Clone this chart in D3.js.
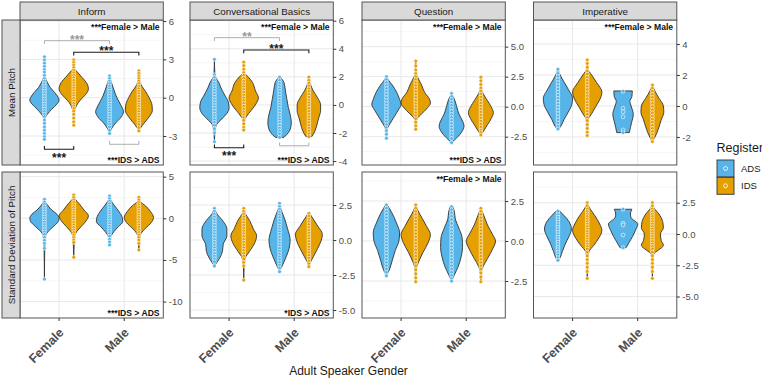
<!DOCTYPE html>
<html>
<head>
<meta charset="utf-8">
<script src="https://cdn.jsdelivr.net/npm/d3@7"></script>
<style>
  body { margin: 0; background: #fff; }
  svg { display: block; font-family: "Liberation Sans", Arial, sans-serif; }
</style>
</head>
<body>
<svg id="chart" width="762" height="379"></svg>
<script>
const contexts = ["Inform", "Conversational Basics", "Question", "Imperative"];
const measures = ["Mean Pitch", "Standard Deviation of Pitch"];
const genders = ["Female", "Male"];
const registers = ["ADS", "IDS"];
const registerColors = ["#56B4E9", "#E69F00"];

// y limits and ticks, [row][column]
const yLimits = [
  [[-5.27, 6.08], [-4.28, 6.05], [-4.86, 7.22], [-3.81, 5.55]],
  [[-11.97, 5.56], [-5.57, 4.86], [-4.81, 4.31], [-6.72, 4.96]]
];
const yTicks = [
  [[-3, 0, 3, 6], [-4, -2, 0, 2, 4, 6], [-2.5, 0, 2.5, 5], [-2, 0, 2, 4]],
  [[-10, -5, 0, 5], [-5, -2.5, 0, 2.5], [-2.5, 0, 2.5], [-5, -2.5, 0, 2.5]]
];
const genderNotes = [
  ["***Female > Male", "***Female > Male", "***Female > Male", "***Female > Male"],
  ["", "", "**Female > Male", ""]
];
const registerNotes = [
  ["***IDS > ADS", "***IDS > ADS", "***IDS > ADS", ""],
  ["***IDS > ADS", "*IDS > ADS", "", ""]
];

// violin outlines: [value, relative half width], order Female ADS, Female IDS, Male ADS, Male IDS
const meanInformShapes = [
  [[3.2,0],[2.2,0.03],[1.6,0.06],[1.2,0.2],[0.8,0.4],[0.4,0.7],[0,0.95],[-0.2,1.0],[-0.5,0.85],[-0.9,0.5],[-1.3,0.2],[-1.6,0.06],[-2.5,0.02],[-3.26,0]],
  [[2.95,0],[2.3,0.05],[2.0,0.25],[1.6,0.55],[1.2,0.85],[0.7,1.0],[0.3,0.85],[0,0.6],[-0.4,0.3],[-0.8,0.12],[-1.2,0.04],[-2.15,0]],
  [[1.7,0],[1.2,0.12],[0.6,0.3],[0,0.5],[-0.6,0.78],[-1.1,0.95],[-1.5,0.8],[-2.0,0.4],[-2.4,0.15],[-2.8,0]],
  [[2.1,0],[1.5,0.04],[1.0,0.15],[0.5,0.45],[0,0.7],[-0.6,0.9],[-1.0,0.92],[-1.5,0.7],[-2.0,0.35],[-2.4,0.1],[-2.6,0]]
];
const meanConvShapes = [
  [[3.25,0],[2.2,0.03],[1.9,0.12],[1.6,0.3],[1.2,0.45],[0.7,0.7],[0.2,0.95],[-0.2,1.0],[-0.6,0.85],[-1.0,0.5],[-1.4,0.15],[-1.8,0.05],[-2.62,0]],
  [[3.04,0],[2.3,0.04],[2.0,0.3],[1.6,0.6],[1.0,0.8],[0.5,1.0],[0.1,0.85],[-0.4,0.5],[-0.8,0.2],[-1.1,0.05],[-1.79,0]],
  [[1.97,0.05],[1.6,0.3],[1.0,0.4],[0.4,0.5],[-0.2,0.6],[-0.8,0.75],[-1.3,0.8],[-1.8,0.7],[-2.1,0.5],[-2.31,0.3]],
  [[1.97,0],[1.5,0.1],[1.0,0.3],[0.5,0.6],[0,0.8],[-0.4,0.8],[-1.0,0.65],[-1.6,0.5],[-2.0,0.35],[-2.26,0.2]]
];
const meanQuestionShapes = [
  [[2.5,0],[2.2,0.15],[1.8,0.4],[1.2,0.7],[0.6,0.9],[0.2,1.0],[-0.3,0.8],[-0.9,0.5],[-1.4,0.25],[-1.8,0.08],[-2.63,0]],
  [[3.8,0],[2.8,0.03],[2.4,0.15],[1.8,0.4],[1.2,0.6],[0.6,0.95],[0.3,1.0],[-0.1,0.8],[-0.6,0.4],[-1.0,0.1],[-1.3,0.03],[-1.88,0]],
  [[1.1,0],[0.6,0.2],[0,0.35],[-0.6,0.5],[-1.2,0.75],[-1.6,0.85],[-2.1,0.7],[-2.6,0.35],[-3.0,0]],
  [[2.45,0],[1.5,0.03],[1.1,0.15],[0.5,0.45],[0,0.7],[-0.5,0.85],[-1.0,0.7],[-1.5,0.45],[-2.0,0.2],[-2.36,0]]
];
const meanImperativeShapes = [
  [[2.37,0],[2.0,0.15],[1.5,0.45],[1.0,0.75],[0.5,1.0],[0.1,0.95],[-0.4,0.7],[-0.9,0.4],[-1.3,0.2],[-1.48,0.05]],
  [[2.97,0],[2.4,0.04],[2.0,0.3],[1.5,0.65],[0.9,1.0],[0.4,0.85],[0,0.6],[-0.5,0.3],[-0.85,0.08],[-1.3,0.03],[-1.91,0]],
  [[0.97,0.63],[0.6,0.6],[0.3,0.46],[0,0.55],[-0.55,0.7],[-1.0,0.6],[-1.4,0.5],[-1.72,0.43]],
  [[1.35,0],[1.0,0.15],[0.5,0.45],[0,0.75],[-0.4,0.78],[-0.9,0.6],[-1.5,0.4],[-2.0,0.18],[-2.3,0]]
];
const sdInformShapes = [
  [[2.28,0],[2.0,0.05],[1.5,0.25],[1.0,0.5],[0.5,0.85],[0,1.0],[-0.5,0.9],[-1.0,0.6],[-1.5,0.3],[-2.0,0.1],[-3.0,0.03],[-7.3,0]],
  [[2.8,0],[2.3,0.1],[1.8,0.35],[1.0,0.7],[0.3,1.0],[-0.3,0.85],[-1.0,0.5],[-1.6,0.2],[-2.2,0.06],[-3.0,0.03],[-4.68,0]],
  [[2.68,0],[2.2,0.08],[1.6,0.3],[0.8,0.65],[0,0.88],[-0.4,0.9],[-1.0,0.6],[-1.6,0.3],[-2.2,0.08],[-3.2,0]],
  [[2.52,0],[2.0,0.1],[1.5,0.45],[0.8,0.8],[0.1,1.0],[-0.5,0.85],[-1.2,0.45],[-1.8,0.15],[-2.4,0.05],[-3.8,0]]
];
const sdConvShapes = [
  [[2.26,0],[1.9,0.15],[1.4,0.55],[0.8,0.85],[0.3,0.85],[-0.3,0.6],[-0.8,0.55],[-1.3,0.35],[-1.7,0.1],[-1.86,0]],
  [[2.26,0],[1.9,0.1],[1.4,0.4],[0.8,0.65],[0.3,0.88],[-0.2,0.75],[-0.8,0.4],[-1.3,0.1],[-1.8,0.03],[-2.86,0]],
  [[2.62,0],[2.2,0.1],[1.5,0.35],[0.8,0.55],[0,0.72],[-0.6,0.65],[-1.2,0.45],[-1.8,0.2],[-2.26,0]],
  [[1.9,0.05],[1.5,0.3],[1.0,0.6],[0.4,0.92],[0,0.85],[-0.6,0.6],[-1.2,0.3],[-1.6,0.1],[-1.9,0]]
];
const sdQuestionShapes = [
  [[2.25,0.05],[1.8,0.35],[1.2,0.65],[0.5,0.9],[0,0.85],[-0.6,0.6],[-1.2,0.4],[-1.8,0.2],[-2.17,0]],
  [[2.25,0],[1.9,0.15],[1.4,0.45],[0.9,0.75],[0.4,1.0],[-0.1,0.85],[-0.7,0.5],[-1.3,0.2],[-1.7,0.05],[-2.54,0]],
  [[2.14,0.1],[1.8,0.2],[1.4,0.25],[0.8,0.5],[0.2,0.72],[-0.4,0.75],[-1.0,0.65],[-1.6,0.45],[-2.1,0.2],[-2.5,0]],
  [[2.04,0],[1.6,0.2],[1.0,0.45],[0.4,0.8],[0,1.0],[-0.5,0.8],[-1.1,0.45],[-1.6,0.15],[-1.9,0.05],[-2.54,0]]
];
const sdImperativeShapes = [
  [[1.92,0.05],[1.5,0.4],[1.0,0.75],[0.4,0.92],[-0.2,0.75],[-0.8,0.5],[-1.4,0.3],[-1.9,0.15],[-2.2,0]],
  [[2.5,0],[2.1,0.15],[1.5,0.5],[0.8,0.85],[0.3,1.0],[-0.3,0.8],[-0.9,0.45],[-1.4,0.12],[-2.0,0.03],[-3.55,0]],
  [[1.98,0.6],[1.6,0.5],[1.3,0.55],[0.8,1.0],[0.3,0.85],[-0.2,0.65],[-0.7,0.4],[-1.1,0.2]],
  [[2.5,0],[2.1,0.1],[1.6,0.45],[1.0,0.7],[0.5,0.75],[0,0.55],[-0.5,0.6],[-0.9,0.75],[-1.3,0.4],[-1.6,0.08],[-2.2,0.03],[-3.55,0]]
];

// individual speaker values, same order
const meanInformPoints = [
  [3.2,2.95,2.7,2.45,2.2,2.0,1.75,1.5,1.3,1.1,0.9,0.7,0.5,0.3,0.1,-0.1,-0.3,-0.5,-0.7,-0.9,-1.1,-1.3,-1.5,-1.75,-2.0,-2.3,-2.55,-2.8,-3.05,-3.26],
  [2.95,2.75,2.55,2.35,2.15,1.95,1.75,1.55,1.35,1.15,0.95,0.75,0.55,0.35,0.15,-0.05,-0.25,-0.45,-0.65,-0.85,-1.05,-1.3,-1.6,-1.9,-2.15],
  [1.7,1.5,1.3,1.1,0.9,0.7,0.5,0.3,0.1,-0.1,-0.3,-0.5,-0.7,-0.9,-1.1,-1.3,-1.5,-1.7,-1.9,-2.1,-2.3,-2.55,-2.8],
  [2.1,1.9,1.7,1.5,1.3,1.1,0.9,0.7,0.5,0.3,0.1,-0.1,-0.3,-0.5,-0.7,-0.9,-1.1,-1.3,-1.5,-1.7,-1.9,-2.1,-2.35,-2.6]
];
const meanConvPoints = [
  [3.25,2.15,1.95,1.75,1.55,1.35,1.15,0.95,0.75,0.55,0.35,0.15,-0.05,-0.25,-0.45,-0.65,-0.85,-1.05,-1.25,-1.45,-1.7,-2.0,-2.62],
  [3.04,2.8,2.55,2.3,2.1,1.9,1.7,1.5,1.3,1.1,0.9,0.7,0.5,0.3,0.1,-0.1,-0.3,-0.5,-0.7,-0.9,-1.1,-1.35,-1.6,-1.79],
  [1.97,1.75,1.55,1.35,1.15,0.95,0.75,0.55,0.35,0.15,-0.05,-0.25,-0.45,-0.65,-0.85,-1.05,-1.25,-1.45,-1.65,-1.85,-2.05,-2.31],
  [1.97,1.75,1.55,1.35,1.15,0.95,0.75,0.55,0.35,0.15,-0.05,-0.25,-0.45,-0.65,-0.85,-1.05,-1.25,-1.45,-1.65,-1.85,-2.05,-2.26]
];
const meanQuestionPoints = [
  [2.5,2.25,2.0,1.75,1.5,1.25,1.0,0.75,0.5,0.25,0,-0.25,-0.5,-0.75,-1.0,-1.25,-1.5,-1.75,-2.0,-2.3,-2.63],
  [3.8,3.4,3.05,2.75,2.5,2.25,2.0,1.75,1.5,1.25,1.0,0.75,0.5,0.25,0,-0.25,-0.5,-0.75,-1.0,-1.3,-1.6,-1.88],
  [1.1,0.85,0.6,0.35,0.1,-0.15,-0.4,-0.65,-0.9,-1.15,-1.4,-1.65,-1.9,-2.15,-2.4,-2.65,-3.0],
  [2.45,2.15,1.85,1.55,1.3,1.05,0.8,0.55,0.3,0.05,-0.2,-0.45,-0.7,-0.95,-1.2,-1.45,-1.7,-1.95,-2.15,-2.36]
];
const meanImperativePoints = [
  [2.37,2.1,1.9,1.7,1.5,1.3,1.1,0.9,0.7,0.5,0.3,0.1,-0.1,-0.3,-0.5,-0.7,-0.9,-1.1,-1.3,-1.48],
  [2.97,2.75,2.5,2.25,2.05,1.85,1.65,1.45,1.25,1.05,0.85,0.65,0.45,0.25,0.05,-0.15,-0.35,-0.55,-0.75,-0.95,-1.2,-1.45,-1.7,-1.91],
  [0.95,-0.15,-0.38,-0.7,-1.55,-1.72],
  [1.35,1.15,0.95,0.75,0.55,0.35,0.15,-0.05,-0.25,-0.45,-0.65,-0.85,-1.05,-1.25,-1.45,-1.65,-1.85,-2.05,-2.3]
];
const sdInformPoints = [
  [2.28,1.95,1.65,1.35,1.05,0.75,0.45,0.15,-0.15,-0.45,-0.75,-1.05,-1.35,-1.65,-1.95,-2.3,-2.65,-3.0,-3.6,-7.3],
  [2.8,2.5,2.2,1.9,1.6,1.3,1.0,0.7,0.4,0.1,-0.2,-0.5,-0.8,-1.1,-1.4,-1.7,-2.0,-2.3,-2.6,-2.9,-4.68],
  [2.68,2.35,2.05,1.75,1.45,1.15,0.85,0.55,0.25,-0.05,-0.35,-0.65,-0.95,-1.25,-1.55,-1.85,-2.15,-2.5,-2.85,-3.2],
  [2.52,2.2,1.9,1.6,1.3,1.0,0.7,0.4,0.1,-0.2,-0.5,-0.8,-1.1,-1.4,-1.7,-2.0,-2.3,-2.6,-3.0,-3.8]
];
const sdConvPoints = [
  [2.26,2.05,1.85,1.65,1.45,1.25,1.05,0.85,0.65,0.45,0.25,0.05,-0.15,-0.35,-0.55,-0.75,-0.95,-1.15,-1.35,-1.55,-1.86],
  [2.26,2.05,1.85,1.65,1.45,1.25,1.05,0.85,0.65,0.45,0.25,0.05,-0.15,-0.35,-0.55,-0.75,-0.95,-1.15,-1.35,-1.6,-1.85,-2.86],
  [2.62,2.4,2.2,2.0,1.8,1.6,1.4,1.2,1.0,0.8,0.6,0.4,0.2,0,-0.2,-0.4,-0.6,-0.8,-1.0,-1.2,-1.4,-1.6,-1.8,-2.0,-2.26],
  [1.9,1.7,1.5,1.3,1.1,0.9,0.7,0.5,0.3,0.1,-0.1,-0.3,-0.5,-0.7,-0.9,-1.1,-1.3,-1.5,-1.7,-1.9]
];
const sdQuestionPoints = [
  [2.25,2.05,1.85,1.65,1.45,1.25,1.05,0.85,0.65,0.45,0.25,0.05,-0.15,-0.35,-0.55,-0.75,-0.95,-1.15,-1.35,-1.55,-1.75,-1.95,-2.17],
  [2.25,2.05,1.85,1.65,1.45,1.25,1.05,0.85,0.65,0.45,0.25,0.05,-0.15,-0.35,-0.55,-0.75,-0.95,-1.15,-1.35,-1.55,-1.8,-2.05,-2.3,-2.54],
  [2.14,1.95,1.75,1.55,1.35,1.1,0.85,0.65,0.45,0.25,0.05,-0.15,-0.35,-0.55,-0.75,-0.95,-1.15,-1.35,-1.55,-1.75,-1.95,-2.15,-2.35,-2.5],
  [2.04,1.85,1.65,1.45,1.25,1.05,0.85,0.65,0.45,0.25,0.05,-0.15,-0.35,-0.55,-0.75,-0.95,-1.15,-1.35,-1.55,-1.75,-2.0,-2.25,-2.54]
];
const sdImperativePoints = [
  [1.8,1.55,1.35,1.15,0.95,0.75,0.55,0.35,0.15,-0.05,-0.25,-0.45,-0.65,-0.85,-1.05,-1.25,-1.45,-1.65,-1.9,-2.1],
  [2.5,2.25,2.0,1.8,1.6,1.4,1.2,1.0,0.8,0.6,0.4,0.2,0,-0.2,-0.4,-0.6,-0.8,-1.0,-1.2,-1.45,-1.75,-2.05,-2.35,-2.65,-3.0,-3.55],
  [1.98,0.86,0.72,-0.08,-1.1],
  [2.5,2.25,2.0,1.8,1.6,1.4,1.2,1.0,0.8,0.6,0.4,0.2,0,-0.2,-0.4,-0.6,-0.8,-1.0,-1.2,-1.45,-1.75,-2.05,-2.35,-2.65,-3.0,-3.55]
];

// significance brackets in the Mean Pitch row: column, ends [gender, register], y value, tip direction
const brackets = [
  {col: 0, from: [0, 0], to: [1, 0], y: 4.46, dir: 1, label: "***", grey: true},
  {col: 0, from: [0, 1], to: [1, 1], y: 3.55, dir: 1, label: "***", grey: false},
  {col: 0, from: [0, 0], to: [0, 1], y: -4.04, dir: -1, label: "***", grey: false},
  {col: 0, from: [1, 0], to: [1, 1], y: -3.65, dir: -1, label: "", grey: true},
  {col: 1, from: [0, 0], to: [1, 0], y: 4.79, dir: 1, label: "**", grey: true},
  {col: 1, from: [0, 1], to: [1, 1], y: 3.91, dir: 1, label: "***", grey: false},
  {col: 1, from: [0, 0], to: [0, 1], y: -3.05, dir: -1, label: "***", grey: false},
  {col: 1, from: [1, 0], to: [1, 1], y: -2.91, dir: -1, label: "", grey: true}
];

const shapes = [
  [meanInformShapes, meanConvShapes, meanQuestionShapes, meanImperativeShapes],
  [sdInformShapes, sdConvShapes, sdQuestionShapes, sdImperativeShapes]
];
const points = [
  [meanInformPoints, meanConvPoints, meanQuestionPoints, meanImperativePoints],
  [sdInformPoints, sdConvPoints, sdQuestionPoints, sdImperativePoints]
];

const panelLeft = [20, 190, 362, 533.5];
const panelW = 143.3;
const rowTop = [20, 172];
const rowH = [145, 146];

const svg = d3.select("#chart");
svg.append("rect").attr("width", 762).attr("height", 379).attr("fill", "#fff");

const x = d3.scalePoint().domain(genders).range([0, panelW]).padding(0.6);
const dodge = d3.scaleBand().domain(registers)
  .range([-0.45 * x.step(), 0.45 * x.step()]);
const half = dodge.bandwidth() / 2;
const colour = d3.scaleOrdinal().domain(registers).range(registerColors);

measures.forEach((measure, r) => {
  contexts.forEach((context, c) => {
    const h = rowH[r];
    const g = svg.append("g")
      .attr("transform", `translate(${panelLeft[c]},${rowTop[r]})`);
    const y = d3.scaleLinear().domain(yLimits[r][c]).range([h, 0]);
    const ticks = yTicks[r][c];
    const step = ticks[1] - ticks[0];
    const minor = [ticks[0] - step].concat(ticks).map(t => t + step / 2)
      .filter(t => t > yLimits[r][c][0] && t < yLimits[r][c][1]);

    g.append("g").selectAll("line").data(minor).enter().append("line")
      .attr("x1", 0).attr("x2", panelW)
      .attr("y1", d => y(d)).attr("y2", d => y(d))
      .attr("stroke", "#f2f2f2").attr("stroke-width", 0.7);
    g.append("g").selectAll("line").data(ticks).enter().append("line")
      .attr("x1", 0).attr("x2", panelW)
      .attr("y1", d => y(d)).attr("y2", d => y(d))
      .attr("stroke", "#e8e8e8").attr("stroke-width", 1);
    g.append("g").selectAll("line").data(genders).enter().append("line")
      .attr("x1", d => x(d)).attr("x2", d => x(d))
      .attr("y1", 0).attr("y2", h)
      .attr("stroke", "#e8e8e8").attr("stroke-width", 1);

    const groups = [];
    genders.forEach((gd, gi) => registers.forEach((rg, ri) => {
      groups.push({gender: gd, register: rg, cx: x(gd) + dodge(rg) + half,
        shape: shapes[r][c][gi * 2 + ri], pts: points[r][c][gi * 2 + ri]});
    }));

    groups.forEach(grp => {
      const area = d3.area()
        .y(d => y(d[0]))
        .x0(d => grp.cx - d[1] * half)
        .x1(d => grp.cx + d[1] * half)
        .curve(d3.curveMonotoneY);
      const prof = grp.shape.slice().sort((a, b) => b[0] - a[0]);
      g.append("path").attr("d", area(prof))
        .attr("fill", colour(grp.register))
        .attr("stroke", "#333").attr("stroke-width", 0.9)
        .attr("stroke-linejoin", "round");
    });
    groups.forEach(grp => {
      g.append("g").selectAll("circle").data(grp.pts).enter().append("circle")
        .attr("cx", grp.cx).attr("cy", d => y(d)).attr("r", 1.9)
        .attr("fill", colour(grp.register))
        .attr("stroke", "#fff").attr("stroke-width", 0.6);
    });

    // brackets
    if (r === 0) {
      brackets.filter(b => b.col === c).forEach(b => {
        const x1 = x(genders[b.from[0]]) + dodge(registers[b.from[1]]) + half;
        const x2 = x(genders[b.to[0]]) + dodge(registers[b.to[1]]) + half;
        const yy = y(b.y);
        const tip = 3.3 * b.dir;
        const col = b.grey ? "#9a9a9a" : "#1a1a1a";
        g.append("path")
          .attr("d", `M${x1},${yy + tip}V${yy}H${x2}V${yy + tip}`)
          .attr("fill", "none").attr("stroke", col)
          .attr("stroke-width", b.grey ? 0.8 : 1.1);
        if (b.label) {
          g.append("text").attr("x", (x1 + x2) / 2)
            .attr("y", b.dir > 0 ? yy + 3 : yy + 12.7)
            .attr("text-anchor", "middle").attr("font-size", 12)
            .attr("font-weight", "bold").attr("fill", col).text(b.label);
        }
      });
    }

    if (genderNotes[r][c]) {
      g.append("text").attr("x", panelW - 3.7).attr("y", 10)
        .attr("text-anchor", "end").attr("font-size", 8.6)
        .attr("font-weight", "bold").attr("fill", "#111").text(genderNotes[r][c]);
    }
    if (registerNotes[r][c]) {
      g.append("text").attr("x", panelW - 3.7).attr("y", h - 2.2)
        .attr("text-anchor", "end").attr("font-size", 8.6)
        .attr("font-weight", "bold").attr("fill", "#111").text(registerNotes[r][c]);
    }

    g.append("rect").attr("width", panelW).attr("height", h)
      .attr("fill", "none").attr("stroke", "#555").attr("stroke-width", 1);

    // right y axis
    const fmt = ticks.some(t => !Number.isInteger(t)) ? d3.format(".1f") : d3.format("d");
    const ax = g.append("g").attr("transform", `translate(${panelW},0)`)
      .call(d3.axisRight(y).tickValues(ticks).tickSize(3).tickPadding(2.5)
        .tickFormat(d => fmt(d).replace("\u2212", "-")));
    ax.select(".domain").remove();
    ax.selectAll("line").attr("stroke", "#333");
    ax.selectAll("text").attr("font-size", 9.5).attr("fill", "#4d4d4d")
      .attr("font-family", "Liberation Sans, Arial, sans-serif");

    // top strips
    if (r === 0) {
      g.append("rect").attr("x", 0).attr("y", -18).attr("width", panelW).attr("height", 18)
        .attr("fill", "#d9d9d9").attr("stroke", "#555").attr("stroke-width", 1);
      g.append("text").attr("x", panelW / 2).attr("y", -5.5)
        .attr("text-anchor", "middle").attr("font-size", 9.8)
        .attr("fill", "#1a1a1a").text(context);
    }
    // bottom x labels
    if (r === 1) {
      g.append("g").selectAll("line").data(genders).enter().append("line")
        .attr("x1", d => x(d)).attr("x2", d => x(d))
        .attr("y1", h).attr("y2", h + 3).attr("stroke", "#333");
      g.append("g").selectAll("text").data(genders).enter().append("text")
        .attr("transform", d => `translate(${x(d) - 1},${h + 9}) rotate(-45)`)
        .attr("dy", "0.72em").attr("text-anchor", "end")
        .attr("font-size", 12.5).attr("font-weight", "bold")
        .attr("fill", "#4d4d4d").text(d => d);
    }
  });

  // row strip on the left
  svg.append("rect").attr("x", 2).attr("y", rowTop[r]).attr("width", 18).attr("height", rowH[r])
    .attr("fill", "#d9d9d9").attr("stroke", "#555").attr("stroke-width", 1);
  svg.append("text")
    .attr("transform", `translate(14.5,${rowTop[r] + rowH[r] / 2}) rotate(-90)`)
    .attr("text-anchor", "middle").attr("font-size", 9.8)
    .attr("fill", "#1a1a1a").text(measure);
});

svg.append("text").attr("x", 348.5).attr("y", 375)
  .attr("text-anchor", "middle").attr("font-size", 12)
  .attr("fill", "#1a1a1a").text("Adult Speaker Gender");

// legend
const legend = svg.append("g").attr("transform", "translate(717,0)");
legend.append("text").attr("x", -0.5).attr("y", 152)
  .attr("font-size", 12.5).attr("fill", "#1a1a1a").text("Register");
registers.forEach((rg, i) => {
  const ky = 160 + i * 17.3;
  legend.append("rect").attr("x", 0).attr("y", ky).attr("width", 17).attr("height", 17)
    .attr("fill", colour(rg)).attr("stroke", "#333").attr("stroke-width", 0.9);
  legend.append("circle").attr("cx", 8.5).attr("cy", ky + 8.5).attr("r", 2)
    .attr("fill", colour(rg)).attr("stroke", "#fff").attr("stroke-width", 0.8);
  legend.append("text").attr("x", 24).attr("y", ky + 12)
    .attr("font-size", 9.5).attr("fill", "#1a1a1a").text(rg);
});
</script>
</body>
</html>
